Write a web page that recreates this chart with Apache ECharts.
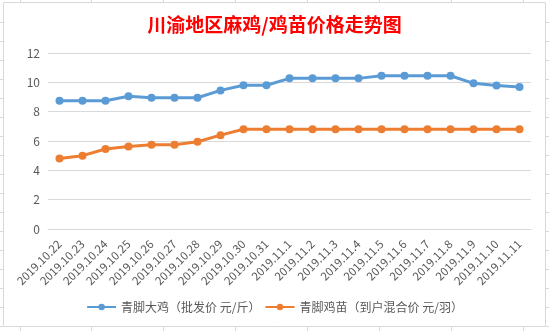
<!DOCTYPE html>
<html><head><meta charset="utf-8">
<script src="https://cdn.jsdelivr.net/npm/echarts@6/dist/echarts.min.js"></script>
<style>html,body{margin:0;padding:0;background:#fff;}#c{width:549px;height:331px;}</style>
</head><body><div id="c"></div>
<script>
const titleText = '川渝地区麻鸡/鸡苗价格走势图';
const categories = ['2019.10.22','2019.10.23','2019.10.24','2019.10.25','2019.10.26','2019.10.27','2019.10.28','2019.10.29','2019.10.30','2019.10.31','2019.11.1','2019.11.2','2019.11.3','2019.11.4','2019.11.5','2019.11.6','2019.11.7','2019.11.8','2019.11.9','2019.11.10','2019.11.11'];
const seriesNames = ['青脚大鸡（批发价 元/斤）','青脚鸡苗（到户混合价 元/羽）'];
const bigChicken = [8.75,8.75,8.75,9.05,8.95,8.95,8.95,9.45,9.8,9.8,10.27,10.27,10.27,10.27,10.45,10.45,10.45,10.45,9.93,9.78,9.68];
const chickSeedling = [4.8,5.0,5.45,5.63,5.75,5.75,5.95,6.4,6.8,6.8,6.8,6.8,6.8,6.8,6.8,6.8,6.8,6.8,6.8,6.8,6.8];

const font = '"Noto Sans CJK SC", "Liberation Sans", sans-serif';
const chart = echarts.init(document.getElementById('c'));
const gridColor = '#d9d9d9';
// spreadsheet background lines outside chart area
const bg = [];
[20,91,163,235,307,379,451,523].forEach(x=>{
  bg.push({type:'line',shape:{x1:x+0.5,y1:0,x2:x+0.5,y2:2},style:{stroke:gridColor,lineWidth:1},silent:true});
  bg.push({type:'line',shape:{x1:x+0.5,y1:327,x2:x+0.5,y2:331},style:{stroke:gridColor,lineWidth:1},silent:true});
});
for(let y=22;y<331;y+=19){
  bg.push({type:'line',shape:{x1:0,y1:y+0.5,x2:3,y2:y+0.5},style:{stroke:gridColor,lineWidth:1},silent:true});
  bg.push({type:'line',shape:{x1:546,y1:y+0.5,x2:549,y2:y+0.5},style:{stroke:gridColor,lineWidth:1},silent:true});
}
bg.push({type:'rect',shape:{x:3.5,y:2.5,width:542,height:324},style:{fill:null,stroke:gridColor,lineWidth:1},silent:true});

chart.setOption({
  animation:false,
  backgroundColor:'#fff',
  graphic:bg,
  title:{text:titleText,left:'center',top:10,textStyle:{color:'#ff0000',fontSize:19,fontWeight:'bold',fontFamily:font}},
  legend:{bottom:13,left:'center',itemWidth:29,itemHeight:8,itemGap:4,
    textStyle:{color:'#595959',fontSize:12,fontFamily:font},
    data:seriesNames},
  grid:{left:48,right:18,top:53,height:176,containLabel:false},
  xAxis:{type:'category',data:categories,boundaryGap:true,
    axisLine:{lineStyle:{color:gridColor}},axisTick:{show:false},
    axisLabel:{rotate:45,color:'#595959',fontSize:11.5,fontFamily:font,margin:13,interval:0}},
  yAxis:{type:'value',min:0,max:12,interval:2,
    axisLine:{show:false},axisTick:{show:false},
    splitLine:{lineStyle:{color:gridColor,width:1}},
    axisLabel:{color:'#595959',fontSize:12,fontFamily:font,margin:8}},
  series:[
    {name:seriesNames[0],type:'line',data:bigChicken,symbol:'circle',symbolSize:8,
      itemStyle:{color:'#5b9bd5'},lineStyle:{color:'#5b9bd5',width:3}},
    {name:seriesNames[1],type:'line',data:chickSeedling,symbol:'circle',symbolSize:8,
      itemStyle:{color:'#ed7d31'},lineStyle:{color:'#ed7d31',width:3}}
  ]
});
</script></body></html>
